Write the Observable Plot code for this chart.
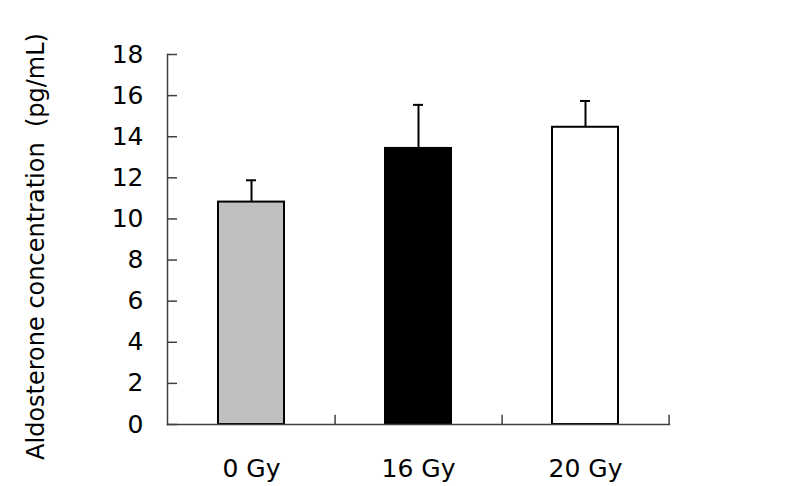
<!DOCTYPE html>
<html>
<head>
<meta charset="utf-8">
<script src="https://cdn.jsdelivr.net/npm/d3@7"></script>
<script src="https://cdn.jsdelivr.net/npm/@observablehq/plot@0.6"></script>
<style>
  html, body { margin: 0; padding: 0; background: #fff; }
  #chart svg { display: block; }
</style>
</head>
<body>
<div id="chart"></div>
<script>
const doses = ["0 Gy", "16 Gy", "20 Gy"];
const means = [10.82, 13.43, 14.46];
const errors = [1.06, 2.12, 1.28];
const fills = ["#c0c0c0", "#000000", "#ffffff"];
const yTicks = [0, 2, 4, 6, 8, 10, 12, 14, 16, 18];
const yTitle = "Aldosterone concentration  (pg/mL)";

const data = doses.map((d, i) => ({dose: d, mean: means[i], upper: means[i] + errors[i], fill: fills[i]}));

const font = "DejaVu Sans, Verdana, sans-serif";
const axisColor = "#404040";

const chart = Plot.plot({
  width: 786,
  height: 486,
  marginLeft: 167,
  marginRight: 117,
  marginTop: 54,
  marginBottom: 62,
  style: {fontFamily: font, fontSize: "24px", color: "#000", background: "#fff"},
  x: {type: "band", domain: doses, paddingInner: 0.605, paddingOuter: 0.3025, axis: null},
  y: {domain: [0, 18], axis: null},
  marks: [
    Plot.barY(data, {x: "dose", y: "mean", fill: "fill", stroke: "#000", strokeWidth: 2}),
    Plot.ruleX(data, {x: "dose", y1: "mean", y2: "upper", stroke: "#000", strokeWidth: 2}),
    Plot.tickY(data, {x: "dose", y: "upper", stroke: "#000", strokeWidth: 2, insetLeft: 28, insetRight: 28}),
    Plot.frame({anchor: "left", stroke: axisColor, strokeWidth: 1.5}),
    Plot.frame({anchor: "bottom", stroke: axisColor, strokeWidth: 1.5}),
    Plot.tickY(yTicks, {y: d => d, stroke: axisColor, strokeWidth: 1.5, insetRight: 492}),
    Plot.ruleX(doses, {x: d => d, y1: 0, y2: 0.45, dx: 83.6, stroke: axisColor, strokeWidth: 1.5}),
    Plot.axisY(yTicks, {anchor: "left", tickSize: 0, tickPadding: 24, fontSize: 25, label: null}),
    Plot.axisX({anchor: "bottom", tickSize: 0, tickPadding: 35, fontSize: 25, label: null}),
    Plot.text([yTitle], {frameAnchor: "left", textAnchor: "middle", dx: -131, dy: 7, rotate: -90, fontSize: 24, text: d => d, fill: "#000"})
  ]
});
document.getElementById("chart").append(chart);
</script>
</body>
</html>
